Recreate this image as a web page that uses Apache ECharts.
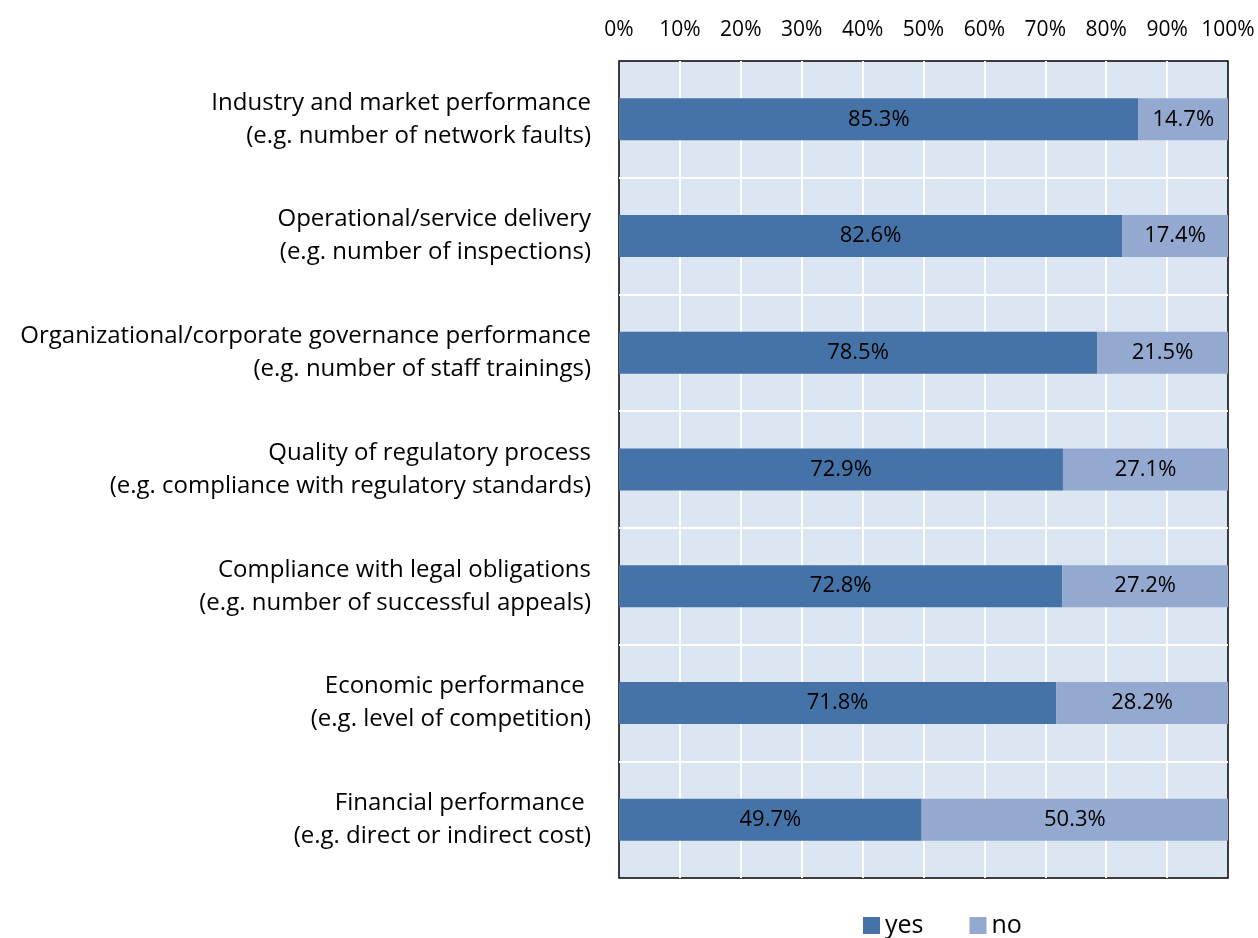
<!DOCTYPE html>
<html>
<head>
<meta charset="utf-8">
<script src="https://cdn.jsdelivr.net/npm/echarts@6/dist/echarts.min.js"></script>
<style>
  html, body { margin: 0; padding: 0; background: #fff; }
  #chart { width: 1258px; height: 938px; }
</style>
</head>
<body>
<div id="chart"></div>
<script>
var categories = [
  'Industry and market performance\n(e.g. number of network faults)',
  'Operational/service delivery\n(e.g. number of inspections)',
  'Organizational/corporate governance performance\n(e.g. number of staff trainings)',
  'Quality of regulatory process\n(e.g. compliance with regulatory standards)',
  'Compliance with legal obligations\n(e.g. number of successful appeals)',
  'Economic performance \n(e.g. level of competition)',
  'Financial performance \n(e.g. direct or indirect cost)'
]
var yesValues = [85.3, 82.6, 78.5, 72.9, 72.8, 71.8, 49.7]
var noValues = [14.7, 17.4, 21.5, 27.1, 27.2, 28.2, 50.3]

var font = '"Open Sans", sans-serif'
var chart = echarts.init(document.getElementById('chart'))

chart.setOption({
  backgroundColor: '#fff',
  animation: false,
  textStyle: { fontFamily: font },
  grid: {
    left: 619,
    right: 30,
    top: 61,
    bottom: 60,
    show: true,
    backgroundColor: '#dce6f2',
    borderColor: '#000',
    borderWidth: 1.5
  },
  legend: {
    top: 908,
    left: 858,
    itemWidth: 17,
    itemHeight: 17,
    itemGap: 46,
    icon: 'rect',
    textStyle: { fontSize: 25, color: '#000', fontFamily: font },
    data: ['yes', 'no']
  },
  xAxis: {
    type: 'value',
    position: 'top',
    min: 0,
    max: 100,
    interval: 10,
    axisLine: { show: false },
    axisTick: { show: false },
    axisLabel: {
      formatter: '{value}%',
      color: '#000',
      fontSize: 21,
      margin: 20,
      fontFamily: font
    },
    splitLine: {
      show: true,
      showMinLine: false,
      showMaxLine: false,
      lineStyle: { color: '#fff', width: 2 }
    }
  },
  yAxis: {
    type: 'category',
    inverse: true,
    data: categories,
    axisLine: { show: false },
    axisTick: { show: false },
    axisLabel: {
      color: '#000',
      fontSize: 24,
      lineHeight: 33,
      margin: 28,
      align: 'right',
      fontFamily: font
    },
    splitLine: {
      show: true,
      showMinLine: false,
      showMaxLine: false,
      lineStyle: { color: '#fff', width: 2 }
    }
  },
  series: [
    {
      name: 'yes',
      type: 'bar',
      stack: 'total',
      barWidth: '36%',
      itemStyle: { color: '#4673a7' },
      label: {
        show: true,
        position: 'inside',
        color: '#000',
        fontSize: 22,
        fontFamily: font,
        formatter: function(p) { return p.value.toFixed(1) + '%' }
      },
      data: yesValues
    },
    {
      name: 'no',
      type: 'bar',
      stack: 'total',
      barWidth: '36%',
      itemStyle: { color: '#94a9d0' },
      label: {
        show: true,
        position: 'inside',
        color: '#000',
        fontSize: 22,
        fontFamily: font,
        formatter: function(p) { return p.value.toFixed(1) + '%' }
      },
      data: noValues
    }
  ]
})
</script>
</body>
</html>
